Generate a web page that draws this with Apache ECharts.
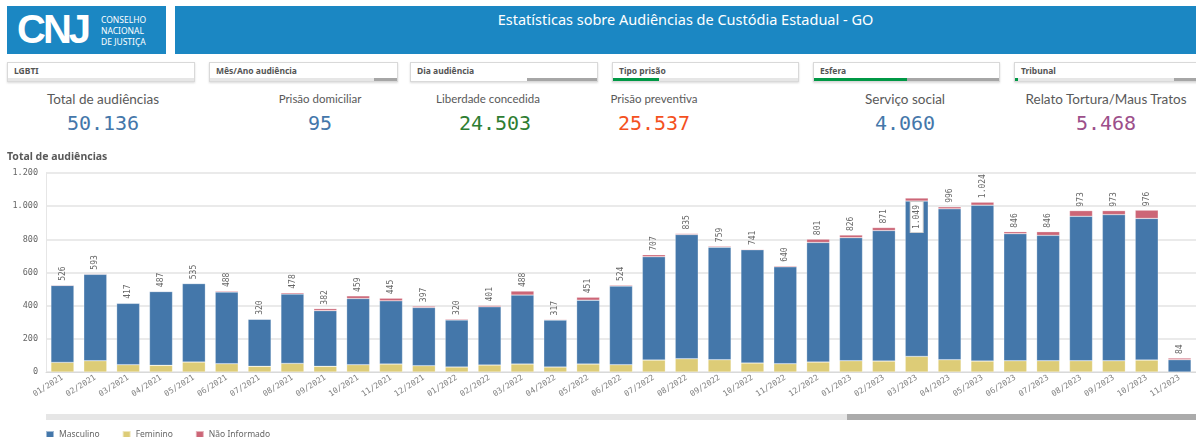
<!DOCTYPE html>
<html>
<head>
<meta charset="utf-8">
<script src="https://cdn.jsdelivr.net/npm/echarts@6/dist/echarts.min.js"></script>
<style>
	body { margin: 0; width: 1196px; height: 437px; overflow: hidden; background: #fff; font-family: "Noto Sans", "Open Sans", sans-serif; position: relative; }
	.logo { position: absolute; left: 7px; top: 6px; width: 159px; height: 48px; background: #1b87c3; }
	.logo .cnj { position: absolute; left: 10px; top: 1px; font: bold 40px "Liberation Sans", sans-serif; color: #fff; letter-spacing: -3px; }
	.logo .txt { position: absolute; left: 94px; top: 8px; font-size: 8.5px; line-height: 11px; color: #fff; }
	.title { position: absolute; left: 175px; top: 6px; width: 1021px; height: 48px; background: #1b87c3; color: #fff; font-size: 14.5px; text-align: center; line-height: 26px; }
	.filtro { position: absolute; top: 62px; height: 18px; border: 1px solid #d9d9d9; box-shadow: 0 1px 2px rgba(0,0,0,0.15); background: #fff; }
	.filtro span { position: absolute; left: 6px; top: 2px; font-size: 8.5px; font-weight: bold; color: #555; }
	.filtro .barra { position: absolute; left: 0; right: 0; bottom: 0; height: 3px; background: #e6e6e6; }
	.filtro .barra i { position: absolute; top: 0; height: 3px; }
	.kpi { position: absolute; top: 90px; text-align: center; width: 220px; }
	.kpi .rot { color: #595959; line-height: 18px; font-family: "Lato", sans-serif; }
	.kpi .val { font-family: "DejaVu Sans Mono", monospace; font-size: 20px; line-height: 26px; margin-top: 2px; }
	#chart { position: absolute; left: 0; top: 142px; width: 1196px; height: 295px; }
</style>
</head>
<body>
<div class="logo"><div class="cnj">CNJ</div><div class="txt">CONSELHO<br>NACIONAL<br>DE JUSTIÇA</div></div>
<div class="title">Estatísticas sobre Audiências de Custódia Estadual - GO</div>

<div class="filtro" style="left:7px;width:186px"><span>LGBTI</span><div class="barra"></div></div>
<div class="filtro" style="left:209px;width:187px"><span>Mês/Ano audiência</span><div class="barra"><i style="left:164px;width:23px;background:#a6a6a6"></i></div></div>
<div class="filtro" style="left:410px;width:186px"><span>Dia audiência</span><div class="barra" style="background:#fff"><i style="left:116px;width:70px;background:#a6a6a6"></i></div></div>
<div class="filtro" style="left:612px;width:185px"><span>Tipo prisão</span><div class="barra"><i style="left:0;width:46px;background:#009845"></i></div></div>
<div class="filtro" style="left:813px;width:185px"><span>Esfera</span><div class="barra"><i style="left:0;width:93px;background:#009845"></i><i style="left:93px;width:92px;background:#a6a6a6"></i></div></div>
<div class="filtro" style="left:1014px;width:190px"><span>Tribunal</span><div class="barra"><i style="left:0;width:3px;background:#009845"></i><i style="left:159px;width:31px;background:#a6a6a6"></i></div></div>

<div class="kpi" style="left:-7px"><div class="rot" style="font-size:13.5px">Total de audiências</div><div class="val" style="color:#4477aa">50.136</div></div>
<div class="kpi" style="left:210px"><div class="rot" style="font-size:11.5px">Prisão domiciliar</div><div class="val" style="color:#4477aa">95</div></div>
<div class="kpi" style="left:378px"><div class="rot" style="font-size:11.5px">Liberdade concedida</div><div class="val" style="color:#2e7d32;margin-left:14px">24.503</div></div>
<div class="kpi" style="left:544px"><div class="rot" style="font-size:11.5px">Prisão preventiva</div><div class="val" style="color:#f4511e">25.537</div></div>
<div class="kpi" style="left:795px"><div class="rot" style="font-size:13.5px">Serviço social</div><div class="val" style="color:#4477aa">4.060</div></div>
<div class="kpi" style="left:996px"><div class="rot" style="font-size:13.5px">Relato Tortura/Maus Tratos</div><div class="val" style="color:#9c4f8a">5.468</div></div>

<div id="chart"></div>

<script>
// dados
var meses = ['01/2021', '02/2021', '03/2021', '04/2021', '05/2021', '06/2021', '07/2021', '08/2021', '09/2021', '10/2021', '11/2021', '12/2021',
	'01/2022', '02/2022', '03/2022', '04/2022', '05/2022', '06/2022', '07/2022', '08/2022', '09/2022', '10/2022', '11/2022', '12/2022',
	'01/2023', '02/2023', '03/2023', '04/2023', '05/2023', '06/2023', '07/2023', '08/2023', '09/2023', '10/2023', '11/2023'];
var masculino = [464, 521, 370, 445, 473, 432, 284, 418, 336, 399, 381, 351,
	284, 351, 416, 283, 385, 474, 623, 749, 679, 683, 584, 721,
	742, 787, 937, 910, 940, 766, 756, 871, 881, 854, 74];
var feminino = [58, 68, 44, 40, 60, 50, 34, 52, 34, 44, 48, 38,
	30, 42, 48, 30, 48, 44, 72, 80, 74, 54, 50, 60,
	68, 66, 94, 74, 66, 68, 68, 68, 68, 72, 0];
var naoInformado = [4, 4, 3, 2, 2, 6, 2, 8, 12, 16, 16, 8,
	6, 8, 24, 4, 18, 6, 12, 6, 6, 4, 6, 20,
	16, 18, 18, 12, 18, 12, 22, 34, 24, 50, 10];
var yTicks = [0, 200, 400, 600, 800, 1000, 1200];

function fmt(v) {
	return String(v).replace(/\B(?=(\d{3})+(?!\d))/g, '.');
}

var mono = 'DejaVu Sans Mono';
var chart = echarts.init(document.getElementById('chart'));

// rótulo do total em cima da pilha; quando não cabe vai para dentro
var topData = naoInformado.map(function(v, i) {
	var total = masculino[i] + feminino[i] + v;
	if (total > 1040) {
		return {
			value : v,
			label : {
				position : 'insideTop',
				align : 'right',
				distance : 4,
				backgroundColor : '#fff',
				borderColor : '#ccc',
				borderWidth : 1,
				padding : [ 2, 3 ]
			}
		};
	}
	return v;
});

var option = {
	animation : false,
	title : {
		text : 'Total de audiências',
		left : 2,
		top : 5,
		textStyle : { fontSize : 10.5, fontWeight : 'bold', color : '#595959', fontFamily : 'Noto Sans' }
	},
	legend : {
		left : 40,
		top : 283,
		itemWidth : 8,
		itemHeight : 8,
		itemGap : 22,
		icon : 'rect',
		textStyle : { fontSize : 8.5, color : '#666', fontFamily : 'Noto Sans' },
		data : [ 'Masculino', 'Feminino', 'Não Informado' ]
	},
	grid : { left : 46, top : 31, width : 1155, height : 199 },
	xAxis : {
		type : 'category',
		data : meses,
		axisLine : { lineStyle : { color : '#d9d9d9' } },
		axisTick : { show : false },
		axisLabel : { rotate : 32, fontSize : 8, color : '#808080', fontFamily : mono, margin : 5 }
	},
	yAxis : {
		type : 'value',
		min : 0,
		max : yTicks[yTicks.length - 1],
		interval : 200,
		axisLine : { show : true, lineStyle : { color : '#e6e6e6' } },
		splitLine : { lineStyle : { color : '#e3e3e3', width : 1.5 } },
		axisLabel : { fontSize : 8.5, color : '#666', fontFamily : mono, margin : 8, formatter : fmt }
	},
	series : [ {
		name : 'Feminino',
		type : 'bar',
		stack : 'total',
		barWidth : '70%',
		itemStyle : { color : '#ddcc77', borderColor : 'rgba(255,255,255,0.5)', borderWidth : 0.5 },
		data : feminino
	}, {
		name : 'Masculino',
		type : 'bar',
		stack : 'total',
		itemStyle : { color : '#4477aa', borderColor : 'rgba(255,255,255,0.5)', borderWidth : 0.5 },
		data : masculino
	}, {
		name : 'Não Informado',
		type : 'bar',
		stack : 'total',
		itemStyle : { color : '#cc6677', borderColor : 'rgba(255,255,255,0.5)', borderWidth : 0.5 },
		label : {
			show : true,
			position : 'top',
			rotate : 90,
			align : 'left',
			verticalAlign : 'middle',
			distance : 4,
			fontSize : 8,
			color : '#666',
			fontFamily : mono,
			formatter : function(p) {
				var i = p.dataIndex;
				return fmt(masculino[i] + feminino[i] + naoInformado[i]);
			}
		},
		data : topData
	} ],
	graphic : [
		{ type : 'rect', shape : { x : 46, y : 272, width : 1150, height : 6 }, style : { fill : '#e6e6e6' } },
		{ type : 'rect', shape : { x : 847, y : 272, width : 349, height : 6 }, style : { fill : '#ababab' } }
	]
};
chart.setOption(option);
</script>
</body>
</html>
